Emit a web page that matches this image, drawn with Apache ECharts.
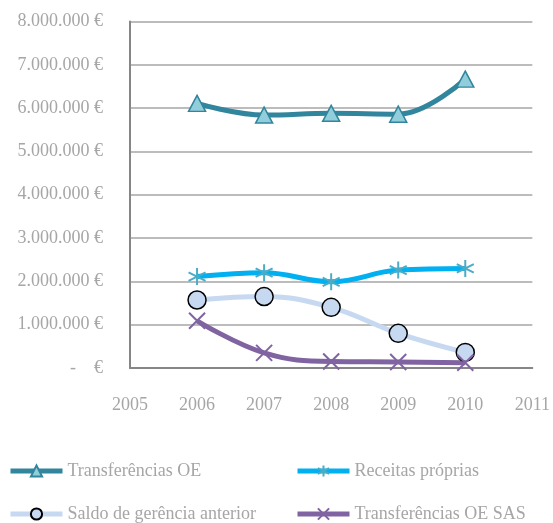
<!DOCTYPE html>
<html>
<head>
<meta charset="utf-8">
<script src="https://cdn.jsdelivr.net/npm/echarts@6/dist/echarts.min.js"></script>
<style>
  html, body { margin: 0; padding: 0; background: #fff; }
  #chart { width: 553px; height: 523px; }
</style>
</head>
<body>
<div id="chart"></div>
<script>
// anos e valores (€)
const years = [2006, 2007, 2008, 2009, 2010]
const transferenciasOE = [6110000, 5840000, 5880000, 5860000, 6670000]
const receitasProprias = [2110000, 2200000, 1990000, 2260000, 2300000]
const saldoGerencia = [1570000, 1650000, 1400000, 800000, 360000]
const transferenciasSAS = [1090000, 350000, 150000, 140000, 120000]

const names = ['Transferências OE', 'Receitas próprias', 'Saldo de gerência anterior', 'Transferências OE SAS']

const FONT = '"Liberation Serif", "DejaVu Serif", serif'
const GREY = '#a6a6a6'

const star = 'path://M5,0 L5,10 M0.7,2.5 L9.3,7.5 M0.7,7.5 L9.3,2.5'
const cross = 'path://M0,0 L10,10 M0,10 L10,0'

function pairs(vals) {
    return years.map((y, i) => [y, vals[i]])
}

function euro(v) {
    if (v === 0) return '-    €'
    return String(v).replace(/\B(?=(\d{3})+(?!\d))/g, '.') + ' €'
}

// uma legenda por item, posicionadas em grelha 2x2
function legendAt(name, left, top) {
    return {
        left: left, top: top,
        itemWidth: 52, itemHeight: 14, itemGap: 0,
        lineStyle: { width: 5 },
        textStyle: { color: GREY, fontFamily: FONT, fontSize: 18 },
        data: [name]
    }
}

const myChart = echarts.init(document.getElementById('chart'))
const options = {
    animation: false,
    grid: { left: 130, right: 20, top: 21.5, bottom: 155 },
    xAxis: {
        type: 'value',
        min: 2005,
        max: 2011,
        interval: 1,
        splitLine: { show: false },
        axisTick: { show: false },
        axisLine: { lineStyle: { color: '#868686', width: 2 } },
        axisLabel: { color: GREY, fontFamily: FONT, fontSize: 18, margin: 28, formatter: v => String(v) }
    },
    yAxis: {
        type: 'value',
        min: 0,
        max: 8000000,
        interval: 1000000,
        axisTick: { show: false },
        axisLine: { show: true, lineStyle: { color: '#868686', width: 2 } },
        splitLine: { lineStyle: { color: '#a6a6a6', width: 1.5 } },
        axisLabel: { color: GREY, fontFamily: FONT, fontSize: 18, margin: 27, formatter: euro }
    },
    legend: [
        legendAt(names[0], 3, 457),
        legendAt(names[1], 290, 457),
        legendAt(names[2], 3, 500),
        legendAt(names[3], 290, 500)
    ],
    series: [
        {
            name: names[0],
            type: 'line',
            smooth: 0.4,
            data: pairs(transferenciasOE),
            lineStyle: { color: '#31859c', width: 5 },
            symbol: 'triangle',
            symbolSize: [17, 16],
            itemStyle: { color: '#92cddc', borderColor: '#31859c', borderWidth: 1.5 }
        },
        {
            name: names[1],
            type: 'line',
            smooth: 0.4,
            data: pairs(receitasProprias),
            lineStyle: { color: '#00b0f0', width: 5 },
            symbol: star,
            symbolSize: 17,
            itemStyle: { color: 'none', borderColor: '#4bacc6', borderWidth: 2 }
        },
        {
            name: names[2],
            type: 'line',
            smooth: 0.4,
            data: pairs(saldoGerencia),
            lineStyle: { color: '#c6d9f1', width: 5 },
            symbol: 'circle',
            symbolSize: 18,
            itemStyle: { color: '#c6d9f1', borderColor: '#000', borderWidth: 1.5 }
        },
        {
            name: names[3],
            type: 'line',
            smooth: 0.4,
            data: pairs(transferenciasSAS),
            lineStyle: { color: '#8064a2', width: 5 },
            symbol: cross,
            symbolSize: 16,
            itemStyle: { color: 'none', borderColor: '#8064a2', borderWidth: 2 }
        }
    ]
}
myChart.setOption(options)
</script>
</body>
</html>
